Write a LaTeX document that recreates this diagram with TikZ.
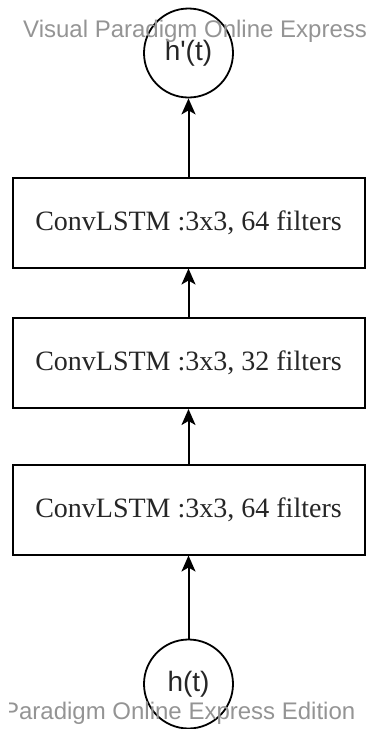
\documentclass[tikz,border=0pt]{standalone}
\usepackage{fontspec}
\setmainfont{Liberation Serif}
\newfontfamily\statefont{Liberation Sans}
\usetikzlibrary{positioning}
\usetikzlibrary{arrows.meta}

\begin{document}
\begin{tikzpicture}
    [
    x=1pt, y=1pt,
    node distance=145pt,
    on grid,
    every node/.style={inner sep=0pt},
    layer/.style={draw, rectangle, line width=2pt, minimum width=352pt, minimum height=90pt, font=\fontsize{28}{34}\selectfont, text=black!85},
    state/.style={draw, circle, line width=1.8pt, minimum size=89pt, font=\statefont\fontsize{28}{34}\selectfont, text=black!85},
    watermark/.style={font=\statefont\fontsize{24}{29}\selectfont, text=black!42},
    flow/.style={line width=2pt, -{Stealth[length=16pt, width=14pt, inset=4pt]}},
    ]
    \useasboundingbox (0,0) rectangle (370,-729);

    \node[state] (hout) at (188.5,-53) {h'(t)};
    \node[layer, below = 169.5pt of hout] (conv1) {ConvLSTM :3x3, 64 filters};
    \node[layer, below = 140.5pt of conv1] (conv2) {ConvLSTM :3x3, 32 filters};
    \node[layer, below = 146.5pt of conv2] (conv3) {ConvLSTM :3x3, 64 filters};
    \node[state, below = 174.5pt of conv3] (hin) {h(t)};

    \draw[flow] (hin) -- (conv3);
    \draw[flow] (conv3) -- (conv2);
    \draw[flow] (conv2) -- (conv1);
    \draw[flow] (conv1) -- (hout);

    % watermarks
    \node[watermark, anchor=base west] (wmtop) at (23,-37) {Visual Paradigm Online Express};
    \begin{scope}
        \clip (9.5,-690) rectangle (370,-729);
        \node[watermark, anchor=base east] (wmbottom) at (355.5,-719) {Paradigm Online Express Edition};
    \end{scope}
\end{tikzpicture}
\end{document}
